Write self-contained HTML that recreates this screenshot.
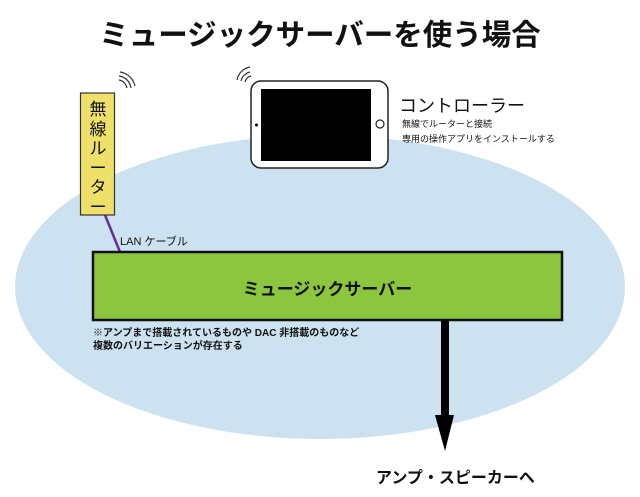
<!DOCTYPE html>
<html><head><meta charset="utf-8"><style>
html,body{margin:0;padding:0;background:#fff;}
body{width:640px;height:497px;position:relative;overflow:hidden;font-family:"Liberation Sans","Noto Sans CJK JP",sans-serif;}
.t{position:absolute;white-space:nowrap;color:#111;}
</style></head><body>
<svg width="640" height="497" style="position:absolute;left:0;top:0">
<ellipse cx="320" cy="287" rx="305" ry="152" fill="#cce2f0"/>
<line x1="105" y1="215" x2="120" y2="252" stroke="#6a2ca0" stroke-width="2.5"/>
<rect x="80.5" y="93" width="34" height="122" fill="#efe06a" stroke="#333" stroke-width="1.2"/>
<rect x="251" y="81" width="137" height="87" rx="10" fill="#fff" stroke="#222" stroke-width="1.5"/>
<rect x="261" y="89" width="110" height="72" fill="#000"/>
<circle cx="256.5" cy="125" r="1.5" fill="#000"/>
<circle cx="380" cy="124" r="4" fill="none" stroke="#222" stroke-width="1.2"/>
<g fill="none" stroke="#333" stroke-width="1.2">
<path d="M119 80 a10 10 0 0 1 8 8"/><path d="M119 76 a14 14 0 0 1 12 12"/><path d="M120 72 a18 18 0 0 1 15 14"/>
<path d="M245 82 a8 8 0 0 1 6 -6"/><path d="M241 81 a12 12 0 0 1 9 -9"/><path d="M237 80 a16 16 0 0 1 13 -13"/>
</g>
<rect x="93" y="252" width="469" height="68" fill="#8cc63f" stroke="#111" stroke-width="2.5"/>
<rect x="441" y="320" width="8" height="96" fill="#000"/>
<polygon points="435,415 454,415 445,451" fill="#000"/>
</svg>
<div class="t" style="left:70px;top:12px;width:500px;text-align:center;font-size:29.5px;font-weight:bold;">ミュージックサーバーを使う場合</div>
<div class="t" style="left:87px;top:100px;width:22px;font-size:17px;line-height:19.5px;white-space:normal;text-align:center;">無線ルーター</div>
<div class="t" style="left:399px;top:92px;font-size:18px;">コントローラー</div>
<div class="t" style="left:402px;top:117px;font-size:9px;">無線でルーターと接続</div>
<div class="t" style="left:402px;top:132px;font-size:9px;">専用の操作アプリをインストールする</div>
<div class="t" style="left:120px;top:233px;font-size:11px;">LAN ケーブル</div>
<div class="t" style="left:93px;top:275px;width:469px;text-align:center;font-size:17px;font-weight:bold;">ミュージックサーバー</div>
<div class="t" style="left:93px;top:324px;font-size:10px;font-weight:bold;">※アンプまで搭載されているものや DAC 非搭載のものなど</div>
<div class="t" style="left:93px;top:337px;font-size:10px;font-weight:bold;">複数のバリエーションが存在する</div>
<div class="t" style="left:376px;top:464px;font-size:16px;font-weight:bold;">アンプ・スピーカーへ</div>
</body></html>
